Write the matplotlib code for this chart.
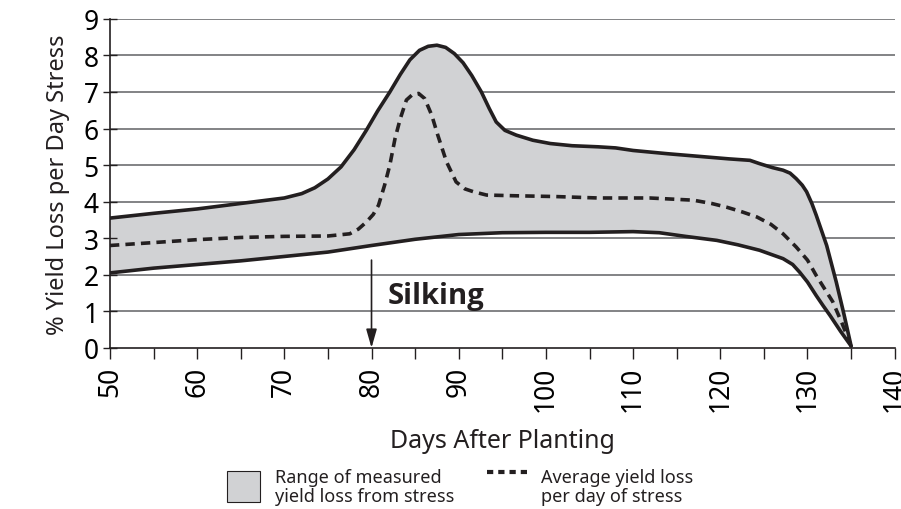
import numpy as np
import matplotlib.pyplot as plt
from matplotlib.patches import Rectangle
from matplotlib.lines import Line2D

plt.rcParams['font.family'] = ['Noto Sans', 'DejaVu Sans']

INK = "#231f20"
FILL = "#d1d2d4"
GRID = "#6d6e71"

# ── Data ───────────────────────────────────────────────
upper_x = [50, 55, 60, 65, 70, 72, 73.5, 75, 76.5, 78, 79.4, 80.7, 82.1, 83.3, 84.4,
           85.5, 86.5, 87.5, 88.5, 89.5, 90.5, 91.5, 92.6, 93.5, 94.3, 95.3, 96.6,
           98.5, 100.5, 103, 106, 108, 110, 114, 118, 121, 123.4, 124.5, 126, 127.2,
           128, 128.7, 129.4, 129.9, 130.5, 131, 132.2, 133.3, 134.2, 135]
upper_y = [3.55, 3.68, 3.80, 3.95, 4.10, 4.22, 4.38, 4.62, 4.95, 5.42, 5.95, 6.48,
           7.0, 7.48, 7.88, 8.14, 8.25, 8.28, 8.22, 8.05, 7.8, 7.45, 7.0, 6.55, 6.18,
           5.95, 5.82, 5.68, 5.59, 5.53, 5.50, 5.47, 5.40, 5.31, 5.23, 5.17, 5.13,
           5.04, 4.93, 4.86, 4.78, 4.63, 4.45, 4.27, 3.95, 3.63, 2.80, 1.80, 0.90, 0.05]

avg_x = [50, 55, 60, 65, 70, 75, 77.5, 78.5, 79.4, 80.2, 80.8, 81.5, 82.1, 82.7, 83.3,
         84.0, 84.7, 85.4, 86.1, 86.9, 87.6, 88.6, 89.7, 90.7, 91.7, 93.2, 96.6, 101,
         106, 111.9, 116.9, 119, 120.7, 122.5, 124.2, 125.8, 127.2, 128.7, 130, 131,
         132, 132.9, 134, 134.9]
avg_y = [2.80, 2.88, 2.96, 3.02, 3.05, 3.06, 3.12, 3.25, 3.44, 3.65, 3.90, 4.45, 5.0,
         5.73, 6.27, 6.78, 6.93, 6.96, 6.82, 6.37, 5.82, 5.09, 4.54, 4.35, 4.27, 4.18,
         4.16, 4.14, 4.10, 4.10, 4.04, 3.95, 3.85, 3.72, 3.58, 3.38, 3.12, 2.76, 2.40,
         1.98, 1.60, 1.26, 0.65, 0.11]

lower_x = [50, 55, 60, 65, 70, 75, 80, 85, 90, 95, 100, 105, 110, 113, 116, 119.6,
           122, 124.5, 127.2, 128.3, 129.1, 130, 131, 131.8, 132.6, 133.8, 135]
lower_y = [2.05, 2.18, 2.28, 2.38, 2.50, 2.62, 2.80, 2.97, 3.10, 3.15, 3.16, 3.16,
           3.18, 3.15, 3.05, 2.94, 2.82, 2.67, 2.44, 2.28, 2.07, 1.80, 1.43, 1.15,
           0.88, 0.45, 0.05]

silking_day = 80

# ── Plot ───────────────────────────────────────────────
fig = plt.figure(figsize=(9.01, 5.10), dpi=100)
ax = fig.add_axes([0.122, 0.316, 0.871, 0.645])

# grid first so the band sits on top of it
for v in range(1, 10):
    ax.axhline(v, color=GRID, linewidth=1.2, zorder=0)

band_x = upper_x + lower_x[::-1]
band_y = upper_y + lower_y[::-1]
ax.fill(band_x, band_y, color=FILL, zorder=1, linewidth=0)
for xs, ys in [(upper_x, upper_y), (lower_x, lower_y)]:
    ax.plot(xs, ys, color=INK, linewidth=2.6, zorder=3,
            solid_capstyle="round", solid_joinstyle="round")
ax.plot(avg_x, avg_y, color=INK, linewidth=2.6, linestyle=(0, (2.6, 1.7)), zorder=3)

# silking marker
ax.annotate("", xy=(silking_day, 0), xytext=(silking_day, 2.4),
            arrowprops=dict(arrowstyle="-|>,head_length=0.7,head_width=0.2",
                            color=INK, lw=1.2, mutation_scale=16,
                            shrinkA=0, shrinkB=0), zorder=4)
ax.text(silking_day + 1.9, 1.42, "Silking", fontsize=21, fontweight="bold",
        family=["Open Sans", "Lato", "DejaVu Sans"],
        color=INK, va="center", ha="left")

ax.set_xlim(50, 140)
ax.set_ylim(0, 9)
ax.set_xticks(range(50, 141, 10))
ax.set_xticks(range(55, 140, 10), minor=True)
ax.set_yticks(range(0, 10))
ax.tick_params(axis="x", which="both", direction="out", length=8, width=1,
               color=INK, labelsize=19, labelrotation=90, pad=5)
ax.tick_params(axis="y", direction="inout", length=10, width=1, color=INK,
               labelsize=19, pad=3)

for spine in ["top", "right"]:
    ax.spines[spine].set_visible(False)
for spine in ["left", "bottom"]:
    ax.spines[spine].set_color(INK)
    ax.spines[spine].set_linewidth(1.2)

ax.set_xlabel("Days After Planting", fontsize=18, color=INK, labelpad=12)
ax.set_ylabel("% Yield Loss per Day Stress", fontsize=17, color=INK, labelpad=10)

# ── Legend (drawn by hand in figure coords) ────────────
fig.add_artist(Rectangle((0.252, 0.013), 0.037, 0.062, transform=fig.transFigure,
                         facecolor=FILL, edgecolor=INK, linewidth=0.8))
fig.text(0.305, 0.044, "Range of measured\nyield loss from stress", fontsize=13,
         color=INK, va="center", ha="left", linespacing=1.05)
fig.add_artist(Line2D([0.541, 0.585], [0.072, 0.072], transform=fig.transFigure,
                      color=INK, linewidth=3, linestyle=(0, (1.5, 1.2))))
fig.text(0.600, 0.044, "Average yield loss\nper day of stress", fontsize=13,
         color=INK, va="center", ha="left", linespacing=1.05)

plt.savefig("out.png", dpi=100)
